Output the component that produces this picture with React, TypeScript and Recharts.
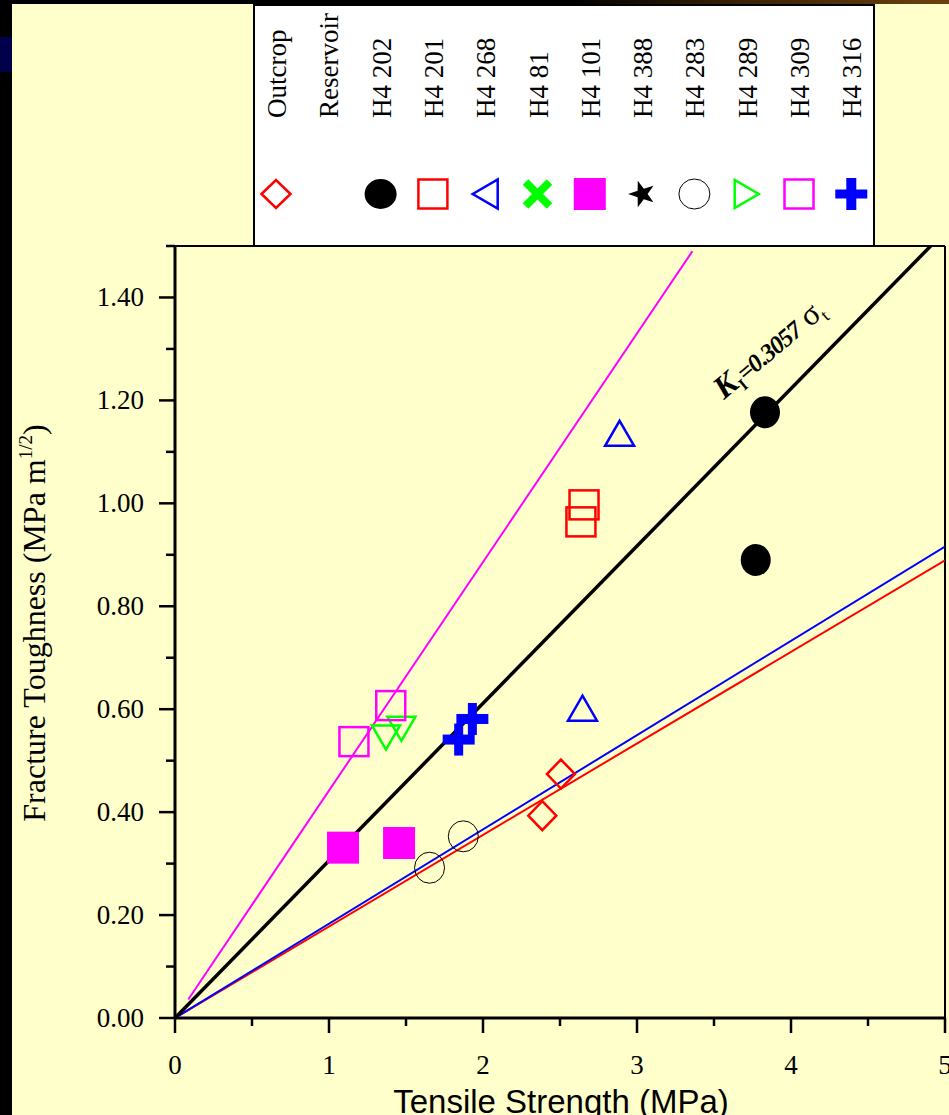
import React from 'react';
import { ScatterChart, Scatter, XAxis, YAxis, ReferenceLine, Legend } from 'recharts';

const RED = '#FF0000';
const BLUE = '#0000FF';
const GREEN = '#00FF00';
const MAGENTA = '#FF00FF';
const BLACK = '#000000';
const SERIF = '"Liberation Serif", "Times New Roman", serif';
const SANS = '"Liberation Sans", Arial, sans-serif';

// axis ticks
const xTicks = [0, 0.5, 1, 1.5, 2, 2.5, 3, 3.5, 4, 4.5, 5];
const yTicks = [0, 0.1, 0.2, 0.3, 0.4, 0.5, 0.6, 0.7, 0.8, 0.9, 1.0, 1.1, 1.2, 1.3, 1.4, 1.5];

// measured samples (tensile strength MPa, fracture toughness MPa m^1/2)
const outcrop = [{ x: 2.385, y: 0.393 }, { x: 2.506, y: 0.474 }];
const h4202 = [{ x: 3.831, y: 1.177 }, { x: 3.771, y: 0.89 }];
const h4201 = [{ x: 2.656, y: 0.997 }, { x: 2.636, y: 0.964 }];
const h4268 = [{ x: 2.887, y: 1.136 }, { x: 2.646, y: 0.602 }];
const h481: { x: number; y: number }[] = [];
const h4101 = [{ x: 1.091, y: 0.331 }, { x: 1.455, y: 0.34 }];
const h4388: { x: number; y: number }[] = [];
const h4283 = [{ x: 1.653, y: 0.292 }, { x: 1.872, y: 0.353 }];
const h4289 = [{ x: 1.37, y: 0.545 }, { x: 1.47, y: 0.562 }];
const h4309 = [{ x: 1.162, y: 0.537 }, { x: 1.401, y: 0.607 }];
const h4316 = [{ x: 1.842, y: 0.541 }, { x: 1.931, y: 0.581 }];

// fitted lines
const fitAll = [{ x: 0, y: 0 }, { x: 4.907, y: 1.5 }]; // Kt = 0.3057 st
const fitMagenta = [{ x: 0.086, y: 0.036 }, { x: 3.36, y: 1.49 }];
const fitBlue = [{ x: 0, y: 0 }, { x: 5, y: 0.916 }];
const fitRed = [{ x: 0, y: 0 }, { x: 5, y: 0.889 }];

const legendLabels = ['Outcrop', 'Reservoir', 'H4 202', 'H4 201', 'H4 268', 'H4 81', 'H4 101', 'H4 388', 'H4 283', 'H4 289', 'H4 309', 'H4 316'];

type Mark = (cx: number, cy: number) => React.ReactElement;

const diamond = (color: string): Mark => (cx, cy) => (
  <polygon points={`${cx},${cy - 14.5} ${cx + 14},${cy} ${cx},${cy + 14.5} ${cx - 14},${cy}`} fill="none" stroke={color} strokeWidth={2.5} />
);
const disc: Mark = (cx, cy) => <ellipse cx={cx} cy={cy} rx={15} ry={16} fill={BLACK} />;
const ring: Mark = (cx, cy) => <ellipse cx={cx} cy={cy} rx={15} ry={15.5} fill="none" stroke={BLACK} strokeWidth={1} />;
const openSquare = (color: string): Mark => (cx, cy) => (
  <rect x={cx - 14.5} y={cy - 14.5} width={29} height={29} fill="none" stroke={color} strokeWidth={2.5} />
);
const solidSquare = (color: string): Mark => (cx, cy) => <rect x={cx - 16} y={cy - 16} width={32} height={32} fill={color} />;
const triUp = (color: string): Mark => (cx, cy) => (
  <polygon points={`${cx},${cy - 12.5} ${cx + 14.5},${cy + 12.5} ${cx - 14.5},${cy + 12.5}`} fill="none" stroke={color} strokeWidth={2.5} />
);
const triDown = (color: string): Mark => (cx, cy) => (
  <polygon points={`${cx - 14},${cy - 12} ${cx + 14},${cy - 12} ${cx},${cy + 12}`} fill="none" stroke={color} strokeWidth={2.5} />
);
const plus = (color: string): Mark => (cx, cy) => (
  <g fill={color}>
    <rect x={cx - 4.5} y={cy - 16} width={9} height={32} />
    <rect x={cx - 16} y={cy - 5} width={32} height={10} />
  </g>
);
const cross = (color: string): Mark => (cx, cy) => (
  <g stroke={color} strokeWidth={8}>
    <line x1={cx - 12} y1={cy - 12} x2={cx + 12} y2={cy + 12} />
    <line x1={cx - 12} y1={cy + 12} x2={cx + 12} y2={cy - 12} />
  </g>
);
const star: Mark = (cx, cy) => {
  const pts: string[] = [];
  for (let i = 0; i < 10; i++) {
    const r = i % 2 === 0 ? 14 : 5.5;
    const a = -Math.PI / 2 + (i * Math.PI) / 5;
    pts.push(`${cx + r * Math.cos(a)},${cy + r * Math.sin(a)}`);
  }
  return <polygon points={pts.join(' ')} fill={BLACK} />;
};

const legendMarks: (Mark | null)[] = [
  diamond(RED), null, disc, openSquare(RED), triUp(BLUE), cross(GREEN),
  solidSquare(MAGENTA), star, ring, triDown(GREEN), openSquare(MAGENTA), plus(BLUE),
];

const shapeOf = (m: Mark) => (p: any) => m(p.cx, p.cy);
const noMark = () => <g />;

function XTick({ x, y, payload }: any) {
  const major = Number.isInteger(payload.value);
  return (
    <g>
      <line x1={x} y1={y} x2={x} y2={y + (major ? 15 : 8)} stroke={BLACK} strokeWidth={2.5} />
      {major && (
        <text x={x} y={y + 56} textAnchor="middle" fontFamily={SERIF} fontSize={27} fill={BLACK}>
          {payload.value}
        </text>
      )}
    </g>
  );
}

function YTick({ x, y, payload }: any) {
  const tenths = Math.round(payload.value * 10);
  const major = tenths % 2 === 0;
  return (
    <g>
      <line x1={x - (major ? 16 : 9)} y1={y} x2={x} y2={y} stroke={BLACK} strokeWidth={2.5} />
      {major && (
        <text x={x - 31} y={y + 9} textAnchor="end" fontFamily={SERIF} fontSize={27} fill={BLACK}>
          {payload.value.toFixed(2)}
        </text>
      )}
    </g>
  );
}

function LegendBox() {
  return (
    <svg width={623} height={243} style={{ display: 'block' }}>
      <rect x={1} y={1} width={620} height={241} fill="#FFFFFF" stroke={BLACK} strokeWidth={2} />
      {legendLabels.map((label, i) => {
        const cx = 23 + 52.3 * i;
        const m = legendMarks[i];
        return (
          <g key={label}>
            <text
              x={cx + 10}
              y={114}
              transform={`rotate(-90, ${cx + 10}, 114)`}
              fontFamily={SERIF}
              fontSize={27}
              fill={BLACK}
            >
              {label}
            </text>
            {m && <g transform={`rotate(-90, ${cx}, 190)`}>{m(cx, 190)}</g>}
          </g>
        );
      })}
    </svg>
  );
}

export default function App() {
  return (
    <div style={{ position: 'absolute', left: 0, top: 0, width: 949, height: 1115, background: '#FFFFCC', overflow: 'hidden' }}>
      <div style={{ position: 'absolute', left: 0, top: 0, width: 12, height: 1115, background: '#000' }} />
      <div style={{ position: 'absolute', left: 0, top: 37, width: 12, height: 35, background: '#00004A' }} />
      <div
        style={{
          position: 'absolute', left: 0, top: 0, width: 949, height: 4,
          background: 'linear-gradient(to right, #000 0%, #000 60%, #3a2205 78%, #6b420e 100%)',
        }}
      />
      <div style={{ position: 'absolute', left: 0, top: 0 }}>
        <ScatterChart width={949} height={1115} margin={{ top: 246, right: 4, bottom: 0, left: 0 }}>
          <XAxis
            type="number"
            dataKey="x"
            domain={[0, 5]}
            ticks={xTicks}
            interval={0}
            tick={(p: any) => <XTick {...p} />}
            tickLine={false}
            tickSize={0}
            tickMargin={0}
            height={97}
            axisLine={{ stroke: BLACK, strokeWidth: 3 }}
            allowDataOverflow
          />
          <YAxis
            type="number"
            dataKey="y"
            domain={[0, 1.5]}
            ticks={yTicks}
            interval={0}
            tick={(p: any) => <YTick {...p} />}
            tickLine={false}
            tickSize={0}
            tickMargin={0}
            width={175}
            axisLine={{ stroke: BLACK, strokeWidth: 3 }}
            allowDataOverflow
          />
          <ReferenceLine y={1.5} stroke={BLACK} strokeWidth={2} />
          <ReferenceLine x={5} stroke={BLACK} strokeWidth={2} />
          <Legend
            content={() => <LegendBox />}
            layout="horizontal"
            verticalAlign="middle"
            align="center"
            wrapperStyle={{ left: 253, top: 4, width: 623, height: 243 }}
          />

          <Scatter data={fitRed} line={{ stroke: RED, strokeWidth: 2 }} shape={noMark} isAnimationActive={false} />
          <Scatter data={fitBlue} line={{ stroke: BLUE, strokeWidth: 2 }} shape={noMark} isAnimationActive={false} />
          <Scatter data={fitMagenta} line={{ stroke: MAGENTA, strokeWidth: 2 }} shape={noMark} isAnimationActive={false} />
          <Scatter data={fitAll} line={{ stroke: BLACK, strokeWidth: 3.5 }} shape={noMark} isAnimationActive={false} />

          <Scatter name="Outcrop" data={outcrop} shape={shapeOf(diamond(RED))} isAnimationActive={false} />
          <Scatter name="H4 202" data={h4202} shape={shapeOf(disc)} isAnimationActive={false} />
          <Scatter name="H4 201" data={h4201} shape={shapeOf(openSquare(RED))} isAnimationActive={false} />
          <Scatter name="H4 268" data={h4268} shape={shapeOf(triUp(BLUE))} isAnimationActive={false} />
          <Scatter name="H4 81" data={h481} shape={shapeOf(cross(GREEN))} isAnimationActive={false} />
          <Scatter name="H4 101" data={h4101} shape={shapeOf(solidSquare(MAGENTA))} isAnimationActive={false} />
          <Scatter name="H4 388" data={h4388} shape={shapeOf(star)} isAnimationActive={false} />
          <Scatter name="H4 283" data={h4283} shape={shapeOf(ring)} isAnimationActive={false} />
          <Scatter name="H4 289" data={h4289} shape={shapeOf(triDown(GREEN))} isAnimationActive={false} />
          <Scatter name="H4 309" data={h4309} shape={shapeOf(openSquare(MAGENTA))} isAnimationActive={false} />
          <Scatter name="H4 316" data={h4316} shape={shapeOf(plus(BLUE))} isAnimationActive={false} />
        </ScatterChart>
      </div>
      <svg width={949} height={1115} style={{ position: 'absolute', left: 0, top: 0, pointerEvents: 'none' }}>
        <text
          x={45}
          y={623}
          transform="rotate(-90, 45, 623)"
          textAnchor="middle"
          fontFamily={SERIF}
          fontSize={32}
          fill={BLACK}
        >
          Fracture Toughness (MPa m<tspan fontSize={19} dy={-13}>1/2</tspan>
          <tspan dy={13}>)</tspan>
        </text>
        <text x={561} y={1113} textAnchor="middle" fontFamily={SANS} fontSize={33} fill={BLACK}>
          Tensile Strength (MPa)
        </text>
        <text x={724} y={400} transform="rotate(-40, 724, 400)" fontFamily={SERIF} fill={BLACK}>
          <tspan fontSize={32} fontWeight="bold" fontStyle="italic">K</tspan>
          <tspan fontSize={17} fontWeight="bold" dy={6}>I</tspan>
          <tspan fontSize={25} fontWeight="bold" fontStyle="italic" dy={-6} letterSpacing={-1}>=0.3057</tspan>
          <tspan fontSize={32}> σ</tspan>
          <tspan fontSize={18} dy={6}>t</tspan>
        </text>
      </svg>
    </div>
  );
}
